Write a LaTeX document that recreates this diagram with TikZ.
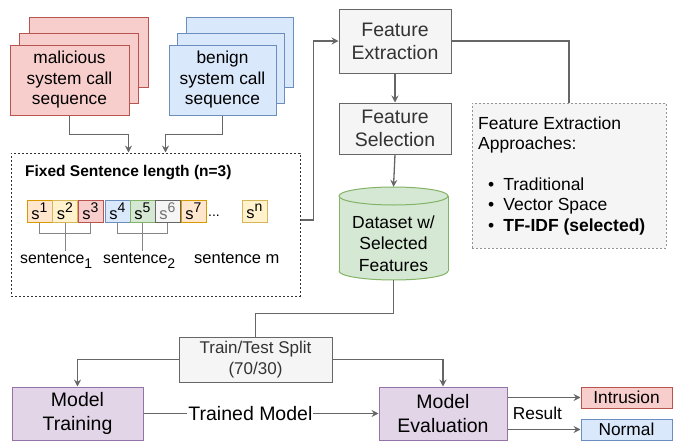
\documentclass[tikz,border=0pt]{standalone}
\usepackage{fontspec}
\setmainfont{Liberation Sans}
\usetikzlibrary{arrows.meta,calc}
\definecolor{redF}{HTML}{F8CECC}\definecolor{redD}{HTML}{B85450}
\definecolor{bluF}{HTML}{DAE8FC}\definecolor{bluD}{HTML}{6C8EBF}
\definecolor{grnF}{HTML}{D5E8D4}\definecolor{grnD}{HTML}{82B366}
\definecolor{gryF}{HTML}{F5F5F5}\definecolor{gryD}{HTML}{666666}
\definecolor{purF}{HTML}{E1D5E7}\definecolor{purD}{HTML}{9673A6}
\definecolor{orgF}{HTML}{FFE6CC}\definecolor{orgD}{HTML}{D79B00}
\definecolor{ylwF}{HTML}{FFF2CC}\definecolor{ylwD}{HTML}{D6B656}
\definecolor{txtG}{HTML}{333333}
\definecolor{lineC}{HTML}{666666}
\newcommand\fsz[2]{\fontsize{#1}{#2}\selectfont}
\newcommand\spow[1]{s\raisebox{7pt}{\fsz{14}{14}#1}}
\begin{document}
\begin{tikzpicture}[x=1pt,y=-1pt,
  box/.style={draw, line width=1pt, inner sep=0pt, align=center},
  redbox/.style={box, fill=redF, draw=redD},
  blubox/.style={box, fill=bluF, draw=bluD},
  grybox/.style={box, fill=gryF, draw=gryD, text=txtG},
  purbox/.style={box, fill=purF, draw=purD},
  sbox/.style={box, minimum width=25pt, minimum height=22pt, font=\fsz{16.5}{18}},
  conn/.style={draw=lineC, line width=1.3pt},
  arr/.style={conn, -{Stealth[length=7pt,width=7pt,inset=2.5pt]}},
  br/.style={draw=lineC!80, line width=1pt},
  plain/.style={inner sep=0pt}]
\useasboundingbox (0,0) rectangle (673,442);

% stacked input boxes
\node[redbox, minimum width=119pt, minimum height=70pt] (malc) at (88.5,52) {};
\node[redbox, minimum width=119pt, minimum height=70pt] (malb) at (78.5,68) {};
\node[redbox, minimum width=119pt, minimum height=70pt, font=\fsz{17.3}{20.5}] (mal) at (69.5,80) {malicious\\system call\\sequence};
\node[blubox, minimum width=107pt, minimum height=70pt] (benc) at (239.5,52) {};
\node[blubox, minimum width=107pt, minimum height=70pt] (benb) at (231,68) {};
\node[blubox, minimum width=107pt, minimum height=70pt, font=\fsz{17.3}{20.5}] (ben) at (222.5,80) {benign\\system call\\sequence};

% fixed sentence box
\node[draw=txtG, line width=1pt, dash pattern=on 2pt off 2pt, minimum width=289pt, minimum height=143pt, inner sep=0pt] (fsl) at (155.5,224.5) {};
\node[plain, anchor=base west, font=\fsz{15.5}{18}\bfseries] (title) at (25,176) {Fixed Sentence length (n=3)};

\node[sbox, fill=orgF, draw=orgD] (s1) at (39.5,211) {\spow{1}};
\node[sbox, fill=ylwF, draw=ylwD] (s2) at (65,211) {\spow{2}};
\node[sbox, fill=redF, draw=redD] (s3) at (90.5,211) {\spow{3}};
\node[sbox, fill=bluF, draw=bluD] (s4) at (117.5,211) {\spow{4}};
\node[sbox, fill=grnF, draw=grnD] (s5) at (142.5,211) {\spow{5}};
\node[sbox, fill=gryF, draw=gryD, text=txtG!70] (s6) at (167.5,211) {\spow{6}};
\node[sbox, fill=orgF, draw=orgD] (s7) at (193.5,211) {\spow{7}};
\node[plain, anchor=base west, font=\fsz{14}{16}] (dots) at (208,216) {...};
\node[sbox, fill=ylwF, draw=ylwD] (sn) at (254.5,211) {\spow{n}};

\draw[br] (s1.south) |- ($(s3.south)+(0,11)$) -- (s3.south);
\draw[br] (s2.south) -- ++(0,28);
\draw[br] (s4.south) |- ($(s6.south)+(0,11)$) -- (s6.south);
\draw[br] (s5.south) -- ++(0,28);

\node[plain, anchor=base west, font=\fsz{15.8}{18}] (l1) at (20,263) {sentence\raisebox{-5pt}{\fsz{14}{14}1}};
\node[plain, anchor=base west, font=\fsz{15.8}{18}] (l2) at (103,263) {sentence\raisebox{-5pt}{\fsz{14}{14}2}};
\node[plain, anchor=base west, font=\fsz{16.5}{18}] (lm) at (194,263) {sentence m};

% feature pipeline
\node[grybox, minimum width=112pt, minimum height=64pt, font=\fsz{19.5}{23}] (fe) at (395,41) {Feature\\Extraction};
\node[grybox, minimum width=112pt, minimum height=51pt, font=\fsz{19.5}{23.5}] (fs) at (395,128.5) {Feature\\Selection};

% cylinder
\fill[grnF] (339,196) rectangle (448,271);
\fill[grnF] (393.5,271) ellipse [x radius=54.5pt, y radius=9pt];
\draw[grnD, line width=1pt] (339,196) -- (339,271) (448,196) -- (448,271);
\begin{scope}
\clip (330,271) rectangle (460,292);
\draw[grnD, line width=1pt] (393.5,271) ellipse [x radius=54.5pt, y radius=9pt];
\end{scope}
\filldraw[fill=grnF, draw=grnD, line width=1pt] (393.5,196) ellipse [x radius=54.5pt, y radius=9pt];
\node[plain, minimum width=109pt, minimum height=93pt] (ds) at (393.5,233.5) {};
\node[plain, align=center, font=\fsz{17.5}{21.5}] (dstext) at (393.5,243.5) {Dataset w/\\Selected\\Features};

% approaches
\node[draw=gryD!70, fill=gryF, line width=1pt, dash pattern=on 2pt off 2pt, minimum width=194pt, minimum height=145pt, inner sep=0pt] (app) at (569,175.5) {};
\node[plain, anchor=north west, align=left, font=\fsz{17.5}{20.4}] (apptext) at (478,116.5) {Feature Extraction\\Approaches:\\[20.4pt]\hspace*{10pt}\textbullet\hspace{9pt}Traditional\\\hspace*{10pt}\textbullet\hspace{9pt}Vector Space\\\hspace*{10pt}\textbullet\hspace{9pt}\textbf{TF-IDF (selected)}};

% bottom row
\node[grybox, minimum width=153pt, minimum height=45pt, font=\fsz{17}{20.5}] (split) at (255.5,359.5) {Train/Test Split\\(70/30)};
\node[purbox, minimum width=131pt, minimum height=53pt, font=\fsz{19.5}{23.5}] (train) at (77.5,413.5) {Model\\Training};
\node[purbox, minimum width=128pt, minimum height=53pt, font=\fsz{19.5}{23.5}] (eval) at (443,413.5) {Model\\Evaluation};
\node[redbox, minimum width=91pt, minimum height=21pt, font=\fsz{17.3}{19}] (intr) at (626.5,397.5) {Intrusion};
\node[blubox, minimum width=91pt, minimum height=21pt, font=\fsz{17.3}{19}] (norm) at (626.5,429.5) {Normal};
\node[plain, font=\fsz{17.3}{19}] (res) at (537.5,413) {Result};

% connectors
\draw[arr] (mal.south) -- ++(0,19) -| ([xshift=118pt]fsl.north west);
\draw[arr] (ben.south) -- ++(0,19) -| ([xshift=155pt]fsl.north west);
\draw[arr] ([yshift=4.5pt]fsl.east) -- ++(13,0) |- (fe.west);
\draw[arr] (fe.south) -- (fs.north);
\draw[arr] (fs.south) -- (ds.north);
\draw[conn] (fe.east) -| (app.north);
\draw[conn] (ds.south) -- ++(0,33) -| (split.north);
\draw[arr] (split.west) -| (train.north);
\draw[arr] (split.east) -| (eval.north);
\draw[arr] (train.east) -- node[pos=0.455, fill=white, inner sep=1pt, font=\fsz{19.5}{22}] (tm) {Trained Model} (eval.west);
\draw[arr] (eval.east |- intr.west) -- (intr.west);
\draw[arr] (eval.east |- norm.west) -- (norm.west);
\end{tikzpicture}
\end{document}
